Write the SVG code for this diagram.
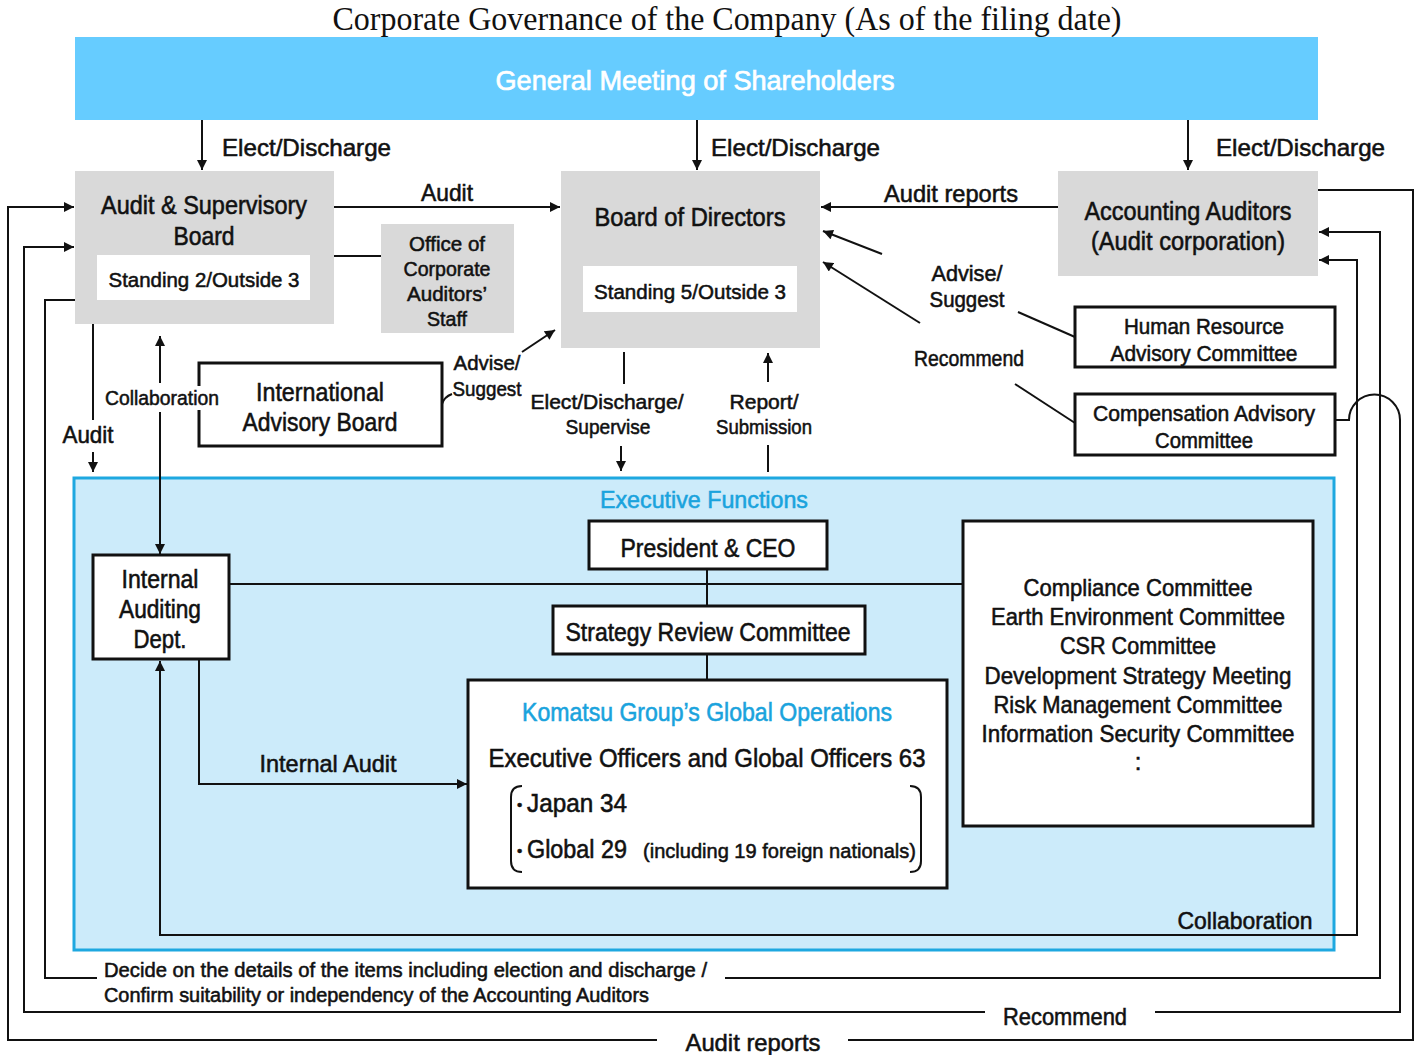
<svg xmlns="http://www.w3.org/2000/svg" width="1416" height="1055" viewBox="0 0 1416 1055">
<style>
.t{font-family:"Liberation Sans",Arial,"Noto Sans CJK JP",sans-serif;fill:#111;stroke:#111;stroke-width:0.55;text-anchor:middle}
.l{text-anchor:start}
.cy{fill:#1AA3DD;stroke:#1AA3DD}
.wt{fill:#fff;stroke:#fff;stroke-width:0.7}
.gray{fill:#D9D9D9}
.box{fill:#fff;stroke:#111;stroke-width:3}
.in{fill:#fff}
.c{fill:none;stroke:#111;stroke-width:2}
.a{marker-end:url(#ah)}
.as{marker-start:url(#ah)}
</style>
<defs>
<marker id="ah" viewBox="0 0 10 10" refX="10" refY="5" markerWidth="11" markerHeight="10" orient="auto-start-reverse" markerUnits="userSpaceOnUse">
<path d="M0,0 L10,5 L0,10 z" fill="#111"/>
</marker>
</defs>
<rect width="1416" height="1055" fill="#fff"/>
<text x="727" y="30" font-family="Liberation Serif,Times New Roman,serif" font-size="34" text-anchor="middle" fill="#111" textLength="789" lengthAdjust="spacingAndGlyphs">Corporate Governance of the Company (As of the filing date)</text>

<g id="general-meeting">
<rect x="75" y="37" width="1243" height="83" fill="#66CCFF"/>
<text class="t wt" x="695" y="90" font-size="28" textLength="399" lengthAdjust="spacingAndGlyphs">General Meeting of Shareholders</text>
</g>

<g id="executive-functions">
<rect x="74" y="478" width="1260" height="472" fill="#CCEBFA" stroke="#1EA8E0" stroke-width="3"/>
<text class="t cy" x="704" y="508" font-size="24" textLength="208" lengthAdjust="spacingAndGlyphs">Executive Functions</text>
<text class="t" x="1245" y="929" font-size="24" textLength="135" lengthAdjust="spacingAndGlyphs">Collaboration</text>
</g>

<g id="audit-supervisory-board">
<rect class="gray" x="75" y="171" width="259" height="153"/>
<text class="t" x="204" y="214" font-size="25" textLength="206" lengthAdjust="spacingAndGlyphs">Audit &amp; Supervisory</text>
<text class="t" x="204" y="245" font-size="25" textLength="61" lengthAdjust="spacingAndGlyphs">Board</text>
<rect class="in" x="97" y="255" width="213" height="45"/>
<text class="t" x="204" y="287" font-size="21" textLength="191" lengthAdjust="spacingAndGlyphs">Standing 2/Outside 3</text>
</g>

<g id="office-corporate-auditors-staff">
<rect class="gray" x="381" y="224" width="133" height="109"/>
<text class="t" x="447" y="251" font-size="21" textLength="76" lengthAdjust="spacingAndGlyphs">Office of</text>
<text class="t" x="447" y="276" font-size="21" textLength="87" lengthAdjust="spacingAndGlyphs">Corporate</text>
<text class="t" x="447" y="301" font-size="21" textLength="80" lengthAdjust="spacingAndGlyphs">Auditors’</text>
<text class="t" x="447" y="326" font-size="21" textLength="40" lengthAdjust="spacingAndGlyphs">Staff</text>
</g>

<g id="board-of-directors">
<rect class="gray" x="561" y="171" width="259" height="177"/>
<text class="t" x="690" y="226" font-size="25" textLength="191" lengthAdjust="spacingAndGlyphs">Board of Directors</text>
<rect class="in" x="583" y="266" width="214" height="46"/>
<text class="t" x="690" y="299" font-size="21" textLength="192" lengthAdjust="spacingAndGlyphs">Standing 5/Outside 3</text>
</g>

<g id="accounting-auditors">
<rect class="gray" x="1058" y="171" width="260" height="105"/>
<text class="t" x="1188" y="220" font-size="25" textLength="207" lengthAdjust="spacingAndGlyphs">Accounting Auditors</text>
<text class="t" x="1188" y="250" font-size="25" textLength="194" lengthAdjust="spacingAndGlyphs">(Audit corporation)</text>
</g>

<g id="human-resource-advisory-committee">
<rect class="box" x="1075" y="307" width="260" height="60"/>
<text class="t" x="1204" y="334" font-size="22" textLength="160" lengthAdjust="spacingAndGlyphs">Human Resource</text>
<text class="t" x="1204" y="361" font-size="22" textLength="187" lengthAdjust="spacingAndGlyphs">Advisory Committee</text>
</g>

<g id="compensation-advisory-committee">
<rect class="box" x="1075" y="394" width="260" height="61"/>
<text class="t" x="1204" y="421" font-size="22" textLength="222" lengthAdjust="spacingAndGlyphs">Compensation Advisory</text>
<text class="t" x="1204" y="448" font-size="22" textLength="98" lengthAdjust="spacingAndGlyphs">Committee</text>
</g>

<g id="international-advisory-board">
<rect class="box" x="199" y="363" width="243" height="83"/>
<text class="t" x="320" y="401" font-size="25" textLength="128" lengthAdjust="spacingAndGlyphs">International</text>
<text class="t" x="320" y="431" font-size="25" textLength="155" lengthAdjust="spacingAndGlyphs">Advisory Board</text>
</g>

<g id="president-ceo">
<rect class="box" x="589" y="521" width="238" height="48"/>
<text class="t" x="708" y="557" font-size="25" textLength="175" lengthAdjust="spacingAndGlyphs">President &amp; CEO</text>
</g>

<g id="strategy-review-committee">
<rect class="box" x="553" y="606" width="312" height="48"/>
<text class="t" x="708" y="641" font-size="25" textLength="285" lengthAdjust="spacingAndGlyphs">Strategy Review Committee</text>
</g>

<g id="internal-auditing-dept">
<rect class="box" x="93" y="555" width="136" height="104"/>
<text class="t" x="160" y="588" font-size="25" textLength="77" lengthAdjust="spacingAndGlyphs">Internal</text>
<text class="t" x="160" y="618" font-size="25" textLength="82" lengthAdjust="spacingAndGlyphs">Auditing</text>
<text class="t" x="160" y="648" font-size="25" textLength="53" lengthAdjust="spacingAndGlyphs">Dept.</text>
</g>

<g id="komatsu-global-operations">
<rect class="box" x="468" y="680" width="479" height="208"/>
<text class="t cy" x="707" y="721" font-size="25" textLength="370" lengthAdjust="spacingAndGlyphs">Komatsu Group’s Global Operations</text>
<text class="t" x="707" y="767" font-size="25" textLength="437" lengthAdjust="spacingAndGlyphs">Executive Officers and Global Officers 63</text>
<path class="c" d="M522,786 Q511,786 511,797 V861 Q511,872 522,872"/>
<path class="c" d="M910,786 Q921,786 921,797 V861 Q921,872 910,872"/>
<text class="t l" x="517" y="810" font-size="15">•</text>
<text class="t l" x="527" y="812" font-size="25" textLength="100" lengthAdjust="spacingAndGlyphs">Japan 34</text>
<text class="t l" x="517" y="856" font-size="15">•</text>
<text class="t l" x="527" y="858" font-size="25" textLength="100" lengthAdjust="spacingAndGlyphs">Global 29</text>
<text class="t l" x="643" y="858" font-size="21" textLength="273" lengthAdjust="spacingAndGlyphs">(including 19 foreign nationals)</text>
</g>

<g id="committees">
<rect class="box" x="963" y="521" width="350" height="305"/>
<text class="t" x="1138" y="596" font-size="24" textLength="229" lengthAdjust="spacingAndGlyphs">Compliance Committee</text>
<text class="t" x="1138" y="625" font-size="24" textLength="294" lengthAdjust="spacingAndGlyphs">Earth Environment Committee</text>
<text class="t" x="1138" y="654" font-size="24" textLength="156" lengthAdjust="spacingAndGlyphs">CSR Committee</text>
<text class="t" x="1138" y="684" font-size="24" textLength="307" lengthAdjust="spacingAndGlyphs">Development Strategy Meeting</text>
<text class="t" x="1138" y="713" font-size="24" textLength="289" lengthAdjust="spacingAndGlyphs">Risk Management Committee</text>
<text class="t" x="1138" y="742" font-size="24" textLength="313" lengthAdjust="spacingAndGlyphs">Information Security Committee</text>
<text class="t" x="1138" y="770" font-size="24">:</text>
</g>

<g id="connectors">
<path class="c a" d="M202,120 V170"/>
<path class="c a" d="M697,120 V170"/>
<path class="c a" d="M1188,120 V170"/>
<path class="c a" d="M334,207 H560"/>
<path class="c" d="M334,256 H381"/>
<path class="c a" d="M1058,207 H821"/>
<path class="c" d="M1075,337 L1018,312"/>
<path class="c a" d="M882,254 L823,231"/>
<path class="c" d="M1075,423 L1015,384"/>
<path class="c a" d="M920,323 L823,262"/>
<path class="c" d="M442,404 Q444,397 452,394"/>
<path class="c a" d="M522,352 L555,330"/>
<path class="c" d="M624,352 V384"/>
<path class="c a" d="M621,446 V471"/>
<path class="c" d="M768,472 V445"/>
<path class="c a" d="M768,382 V353"/>
<path class="c" d="M93,324 V420"/>
<path class="c a" d="M93,452 V472"/>
<path class="c a" d="M160,383 V336"/>
<path class="c a" d="M160,412 V554"/>
<path class="c" d="M229,584 H963"/>
<path class="c" d="M707,569 V606 M707,654 V680"/>
<path class="c a" d="M199,659 V784 H467"/>
<path class="c as a" d="M160,661 V935 H1357 V260 H1319"/>
<path class="c" d="M75,300 H45 V978 H97"/>
<path class="c a" d="M725,978 H1380 V232 H1319"/>
<path class="c" d="M1335,420 H1349 A25.5,25.5 0 0 1 1400,420 V1012 H1155"/>
<path class="c a" d="M985,1012 H24 V247 H74"/>
<path class="c" d="M1318,190 H1413 V1040 H848"/>
<path class="c a" d="M657,1040 H8 V207 H74"/>
</g>

<g id="labels">
<text class="t l" x="222" y="156" font-size="24" textLength="169" lengthAdjust="spacingAndGlyphs">Elect/Discharge</text>
<text class="t l" x="711" y="156" font-size="24" textLength="169" lengthAdjust="spacingAndGlyphs">Elect/Discharge</text>
<text class="t l" x="1216" y="156" font-size="24" textLength="169" lengthAdjust="spacingAndGlyphs">Elect/Discharge</text>
<text class="t" x="447" y="201" font-size="24" textLength="52" lengthAdjust="spacingAndGlyphs">Audit</text>
<text class="t" x="951" y="202" font-size="24" textLength="134" lengthAdjust="spacingAndGlyphs">Audit reports</text>
<text class="t" x="967" y="281" font-size="22" textLength="71" lengthAdjust="spacingAndGlyphs">Advise/</text>
<text class="t" x="967" y="307" font-size="22" textLength="75" lengthAdjust="spacingAndGlyphs">Suggest</text>
<text class="t" x="969" y="366" font-size="22" textLength="110" lengthAdjust="spacingAndGlyphs">Recommend</text>
<text class="t" x="487" y="370" font-size="21" textLength="67" lengthAdjust="spacingAndGlyphs">Advise/</text>
<text class="t" x="487" y="396" font-size="21" textLength="69" lengthAdjust="spacingAndGlyphs">Suggest</text>
<rect x="102" y="386" width="120" height="24" fill="#fff"/>
<text class="t" x="162" y="405" font-size="21" textLength="114" lengthAdjust="spacingAndGlyphs">Collaboration</text>
<text class="t" x="88" y="443" font-size="24" textLength="51" lengthAdjust="spacingAndGlyphs">Audit</text>
<text class="t" x="607" y="409" font-size="21" textLength="153" lengthAdjust="spacingAndGlyphs">Elect/Discharge/</text>
<text class="t" x="608" y="434" font-size="21" textLength="85" lengthAdjust="spacingAndGlyphs">Supervise</text>
<text class="t" x="764" y="409" font-size="21" textLength="69" lengthAdjust="spacingAndGlyphs">Report/</text>
<text class="t" x="764" y="434" font-size="21" textLength="96" lengthAdjust="spacingAndGlyphs">Submission</text>
<text class="t" x="328" y="772" font-size="24" textLength="137" lengthAdjust="spacingAndGlyphs">Internal Audit</text>
<text class="t l" x="104" y="977" font-size="20" textLength="603" lengthAdjust="spacingAndGlyphs">Decide on the details of the items including election and discharge /</text>
<text class="t l" x="104" y="1002" font-size="20" textLength="545" lengthAdjust="spacingAndGlyphs">Confirm suitability or independency of the Accounting Auditors</text>
<text class="t" x="1065" y="1025" font-size="24" textLength="124" lengthAdjust="spacingAndGlyphs">Recommend</text>
<text class="t" x="753" y="1051" font-size="24" textLength="135" lengthAdjust="spacingAndGlyphs">Audit reports</text>
</g>
</svg>
